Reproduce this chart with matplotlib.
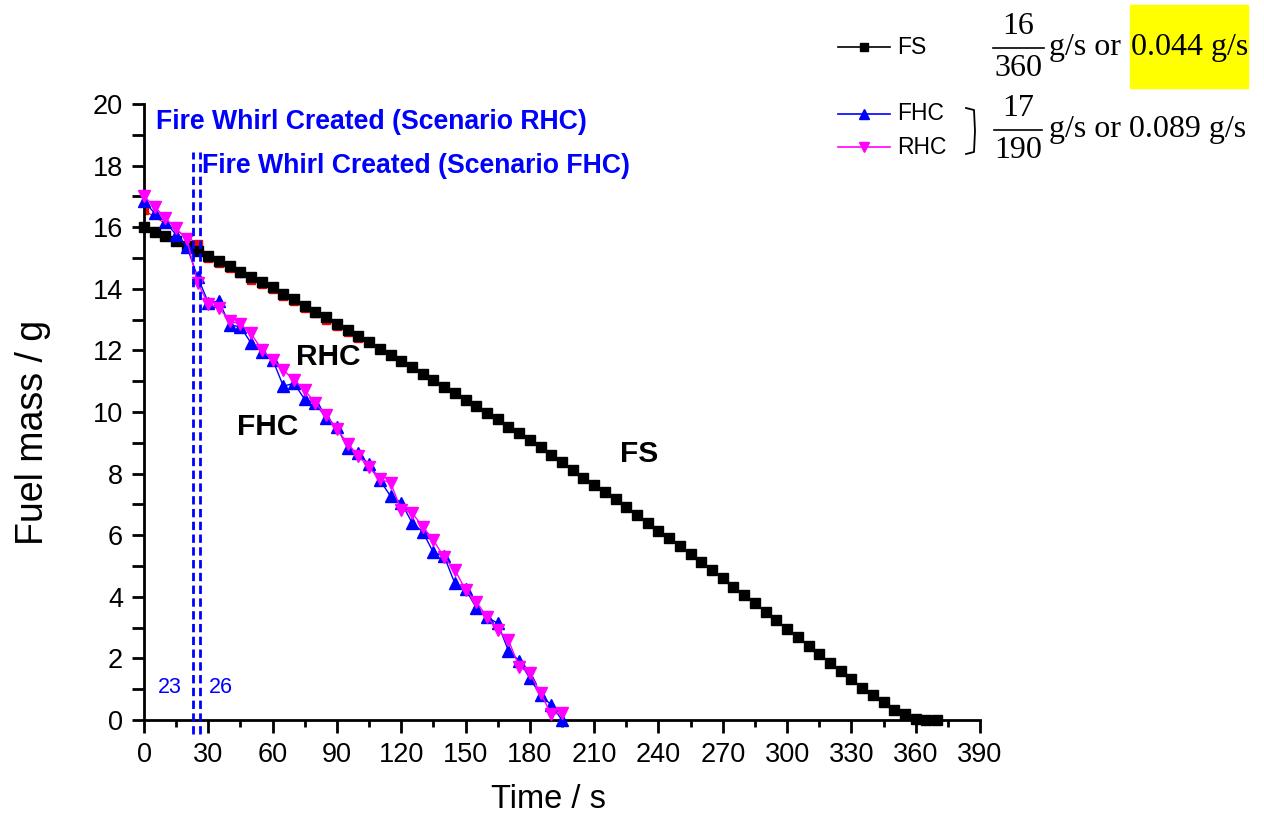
import matplotlib
matplotlib.use("Agg")
import matplotlib.pyplot as plt
import numpy as np
from matplotlib.patches import Rectangle
from matplotlib.lines import Line2D

# ---------------- data ----------------
fs_time = list(range(0, 375, 5))
fs_mass = [16.0, 15.85, 15.7, 15.55, 15.4, 15.23, 15.06, 14.9, 14.74, 14.55,
           14.37, 14.21, 14.05, 13.83, 13.67, 13.44, 13.26, 13.07, 12.86, 12.66,
           12.47, 12.27, 12.06, 11.86, 11.65, 11.45, 11.23, 11.04, 10.82, 10.61,
           10.39, 10.19, 9.98, 9.76, 9.52, 9.31, 9.09, 8.85, 8.62, 8.37,
           8.12, 7.87, 7.63, 7.39, 7.17, 6.91, 6.66, 6.41, 6.15, 5.92,
           5.65, 5.39, 5.12, 4.88, 4.60, 4.33, 4.06, 3.79, 3.52, 3.25,
           2.95, 2.68, 2.41, 2.13, 1.86, 1.59, 1.32, 1.05, 0.81, 0.57,
           0.32, 0.19, 0.02, 0.0, 0.0]

hc_time = list(range(0, 200, 5))
fhc_mass = [16.85, 16.45, 16.18, 15.75, 15.37, 14.39, 13.55, 13.6, 12.82, 12.77,
            12.23, 11.96, 11.7, 10.84, 10.93, 10.41, 10.28, 9.80, 9.52, 8.82,
            8.66, 8.30, 7.79, 7.27, 7.06, 6.41, 6.11, 5.44, 5.32, 4.44,
            4.25, 3.64, 3.34, 3.14, 2.25, 1.93, 1.35, 0.81, 0.49, 0.0]
rhc_mass = [17.0, 16.67, 16.29, 15.96, 15.61, 14.2, 13.5, 13.38, 12.95, 12.85,
            12.55, 12.01, 11.69, 11.36, 11.04, 10.71, 10.28, 9.90, 9.45, 8.97,
            8.58, 8.2, 7.81, 7.71, 6.82, 6.73, 6.28, 5.84, 5.28, 4.88,
            4.22, 3.84, 3.35, 2.92, 2.6, 1.73, 1.52, 0.87, 0.19, 0.22]

# faint residual red series visible beneath FS
red_time = [0, 25, 30, 35, 40, 45, 50, 55, 60, 65, 70, 75, 80, 85, 90, 95, 100]
red_mass = [16.55, 15.47, 15.0, 14.85, 14.68, 14.5, 14.3, 14.15, 13.98, 13.78,
            13.6, 13.38, 13.2, 13.0, 12.8, 12.6, 12.4]

whirl_times = [23, 26]
whirl_labels = ["23", "26"]
x_ticks = list(range(0, 391, 30))
y_ticks = list(range(0, 21, 2))

# ---------------- figure ----------------
W, H = 1264, 814
fig = plt.figure(figsize=(W / 100, H / 100), dpi=100)
plt.rcParams['font.family'] = ['Liberation Sans', 'DejaVu Sans']

def fx(x):
    return x / W

def fy(y):
    return 1 - y / H

ax = fig.add_axes([fx(144), fy(720), fx(980) - fx(144), fy(104) - fy(720)])
ax.set_xlim(0, 390)
ax.set_ylim(0, 20)

ax.plot(red_time, red_mass, color='red', marker='s', ms=6, lw=0.8, zorder=2)
ax.plot(fs_time, fs_mass, color='black', marker='s', ms=6.5, lw=1.0, zorder=3,
        clip_on=False)
ax.plot(hc_time, fhc_mass, color='#0000FF', marker='^', ms=8.5, lw=1.0, zorder=4,
        clip_on=False)
ax.plot(hc_time, rhc_mass, color='#FF00FF', marker='v', ms=8.5, lw=1.0, zorder=5,
        clip_on=False)

for t in whirl_times:
    ax.plot([t, t], [-0.45, 18.45], color='#0000FF', lw=2.0,
            ls=(0, (3.0, 1.6)), clip_on=False, zorder=6)

ax.text(whirl_times[0] - 11, 1.05, whirl_labels[0], color='#0000FF', fontsize=15.5,
        ha='center', va='center')
ax.text(whirl_times[1] + 10, 1.05, whirl_labels[1], color='#0000FF', fontsize=15.5,
        ha='center', va='center')

ax.text(5.5, 19.4, "Fire Whirl Created (Scenario RHC)", color='#0000FF',
        fontsize=19.2, fontweight='bold', ha='left', va='center')
ax.text(27, 18.0, "Fire Whirl Created (Scenario FHC)", color='#0000FF',
        fontsize=19.2, fontweight='bold', ha='left', va='center')

ax.text(86, 11.8, "RHC", fontsize=21.5, fontweight='bold', ha='center', va='center')
ax.text(57.5, 9.5, "FHC", fontsize=21.5, fontweight='bold', ha='center', va='center')
ax.text(231, 8.65, "FS", fontsize=21.5, fontweight='bold', ha='center', va='center')

for s in ['top', 'right']:
    ax.spines[s].set_visible(False)
for s in ['left', 'bottom']:
    ax.spines[s].set_linewidth(2.0)

ax.set_xticks(x_ticks)
ax.set_xticks(list(range(15, 391, 30)), minor=True)
ax.set_yticks(y_ticks)
ax.set_yticks(list(range(1, 21, 2)), minor=True)
ax.tick_params(axis='x', which='major', direction='out', length=9, width=2,
               labelsize=19.5, pad=7)
ax.tick_params(axis='x', which='minor', direction='out', length=5, width=2)
ax.tick_params(axis='y', which='both', direction='out', length=9, width=2,
               labelsize=19.5, pad=6)

fig.text(fx(548), fy(800), "Time / s", fontsize=23.5, ha='center', va='center')
fig.text(fx(33), fy(432), "Fuel mass / g", fontsize=27, ha='center', va='center',
         rotation=90)

# ---------------- legend-like annotation ----------------
leg_items = [("FS", 'black', 's', 47, 6), ("FHC", '#0000FF', '^', 114, 7),
             ("RHC", '#FF00FF', 'v', 147, 7)]
for name, col, mk, yy, msz in leg_items:
    fig.add_artist(Line2D([fx(838), fx(890)], [fy(yy), fy(yy)], color=col, lw=1.2))
    fig.add_artist(Line2D([fx(864)], [fy(yy)], color=col, marker=mk, ms=msz, lw=0))
    fig.text(fx(897), fy(yy), name, fontsize=16.5, ha='left', va='center')

serif = ['Liberation Serif', 'DejaVu Serif']
fs_ = 23
fig.add_artist(Rectangle((fx(1130), fy(88)), fx(1248) - fx(1130), fy(5) - fy(88),
                         color='#FFFF00', zorder=0))
fig.text(fx(1018), fy(26), "16", family=serif, fontsize=fs_, ha='center', va='center')
fig.add_artist(Line2D([fx(993), fx(1044)], [fy(48), fy(48)], color='black', lw=1.2))
fig.text(fx(1018), fy(69), "360", family=serif, fontsize=fs_, ha='center', va='center')
fig.text(fx(1049), fy(47), "g/s or", family=serif, fontsize=fs_, ha='left', va='center')
fig.text(fx(1131), fy(47), "0.044 g/s", family=serif, fontsize=fs_, ha='left', va='center')

fig.text(fx(1018), fy(108), "17", family=serif, fontsize=fs_, ha='center', va='center')
fig.add_artist(Line2D([fx(994), fx(1042)], [fy(130), fy(130)], color='black', lw=1.2))
fig.text(fx(1018), fy(151), "190", family=serif, fontsize=fs_, ha='center', va='center')
fig.text(fx(1049), fy(130), "g/s or 0.089 g/s", family=serif, fontsize=fs_,
         ha='left', va='center')

fig.add_artist(Line2D([fx(966), fx(974), fx(975), fx(974), fx(966)],
                      [fy(108), fy(110), fy(131), fy(152), fy(154)],
                      color='black', lw=1.3))

fig.savefig("out.png", dpi=100)
